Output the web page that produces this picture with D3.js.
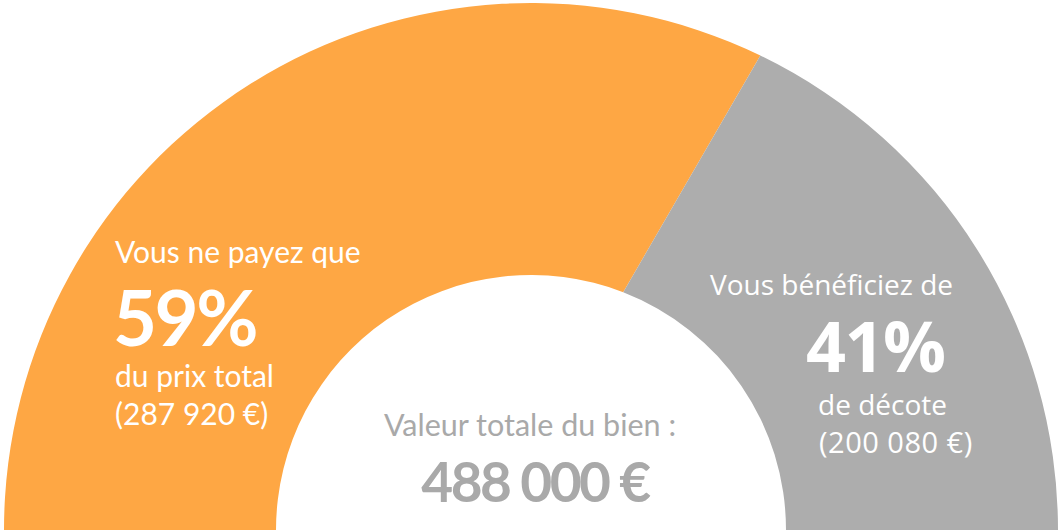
<!DOCTYPE html>
<html><head><meta charset="utf-8">
<script src="https://cdn.jsdelivr.net/npm/d3@7"></script>
<style>body{margin:0;background:#fff}svg{display:block}</style>
</head><body><svg id="c" width="1061" height="530"></svg>
<script>
// ---- data ----
const categories = ["Vous ne payez que", "Vous bénéficiez de"];
const shares = [59, 41];
const shareSuffix = ["du prix total", "de décote"];
const amounts = [287920, 200080];
const totalLabel = "Valeur totale du bien :";
const totalValue = 488000;
const colors = ["#FEA744", "#ADADAD"];

// ---- layout ----
const W = 1061, H = 530;
const cx = 531, cy = 530, rOuter = 527, rInner = 255;
// visual skew of the split edge (outer / inner), degrees
const skewOuter = 9.6 * Math.PI / 180, skewInner = 5 * Math.PI / 180;

const svg = d3.select("#c");
const g = svg.append("g").attr("transform", `translate(${cx},${cy})`);

const pie = d3.pie().sort(null).startAngle(-Math.PI / 2).endAngle(Math.PI / 2);
const arcs = pie(shares);
const half = Math.PI / 2;

function edge(a, isOuter) {
  if (Math.abs(a) >= half - 1e-6) return a;
  return a + (isOuter ? skewOuter : skewInner);
}
function slicePath(d) {
  const a0o = edge(d.startAngle, true), a1o = edge(d.endAngle, true);
  const a0i = edge(d.startAngle, false), a1i = edge(d.endAngle, false);
  const p = d3.path();
  p.moveTo(rOuter * Math.sin(a0o), -rOuter * Math.cos(a0o));
  p.arc(0, 0, rOuter, a0o - half, a1o - half, false);
  p.lineTo(rInner * Math.sin(a1i), -rInner * Math.cos(a1i));
  p.arc(0, 0, rInner, a1i - half, a0i - half, true);
  p.closePath();
  return p.toString();
}
g.selectAll("path.slice").data(arcs).join("path")
  .attr("class", "slice")
  .attr("d", slicePath)
  .attr("fill", (d, i) => colors[i]);

const fmt = v => d3.format(",")(v).replace(/,/g, " ") + " €";

// ---- left labels ----
const L = svg.append("g").attr("fill", "#fff").attr("font-family", "Lato, sans-serif");
L.append("text").attr("x", 115).attr("y", 263).attr("font-size", 30).text(categories[0]);
L.append("text").attr("x", 113).attr("y", 346).attr("font-size", 76).attr("font-weight", 700).attr("letter-spacing", -2.5).text(shares[0] + "%");
L.append("text").attr("x", 115).attr("y", 387).attr("font-size", 30).text(shareSuffix[0]);
L.append("text").attr("x", 115).attr("y", 425).attr("font-size", 30).text("(" + fmt(amounts[0]) + ")");

// ---- right labels ----
const R = svg.append("g").attr("fill", "#fff").attr("font-family", "'Open Sans', sans-serif");
R.append("text").attr("x", 710).attr("y", 295).attr("font-size", 28).text(categories[1]);
R.append("text").attr("x", 806).attr("y", 372).attr("font-size", 70).attr("font-weight", 700).attr("letter-spacing", -1.5).text(shares[1] + "%");
R.append("text").attr("x", 818).attr("y", 415).attr("font-size", 28).text(shareSuffix[1]);
R.append("text").attr("x", 819).attr("y", 453).attr("font-size", 29).attr("letter-spacing", 0.5).text("(" + fmt(amounts[1]) + ")");

// ---- centre ----
const C = svg.append("g").attr("fill", "#A9A9A9").attr("font-family", "Lato, sans-serif").attr("text-anchor", "middle");
C.append("text").attr("x", 530).attr("y", 436).attr("font-size", 30.5).text(totalLabel);
C.append("text").attr("x", 535).attr("y", 502).attr("font-size", 55).attr("font-weight", 700).attr("letter-spacing", -2.5).text(fmt(totalValue));
</script></body></html>
